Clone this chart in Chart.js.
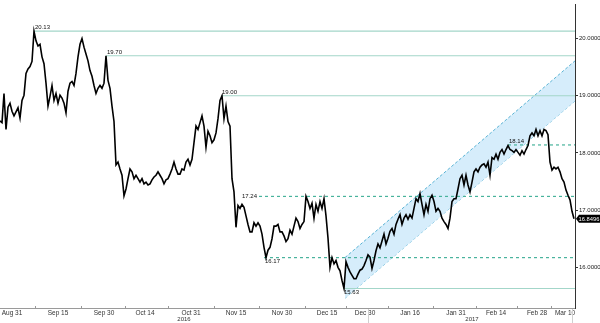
<!DOCTYPE html>
<html>
<head>
<meta charset="utf-8">
<script src="https://cdn.jsdelivr.net/npm/chart.js@4/dist/chart.umd.min.js"></script>
<style>
  html, body { margin: 0; padding: 0; background: #fff; }
  #charts { width: 600px; height: 323px; }
</style>
</head>
<body>
<div id="charts"><canvas id="myChart" width="600" height="323"></canvas></div>
<script>
// Price, sampled twice per trading day (index 0 = late Aug 2016)
var prices = [
    18.56, 18.53, 19.04, 18.41, 18.80, 18.87, 18.73, 18.65, 18.72, 18.79, 18.61, 18.92, 19.01, 19.39, 19.47, 19.51, 19.60, 20.13, 19.96, 19.87,
    19.90, 19.68, 19.56, 19.22, 18.82, 18.99, 19.18, 18.92, 19.04, 18.87, 19.01, 18.96, 18.87, 18.70, 19.08, 19.22, 19.25, 19.18, 19.39, 19.68,
    19.90, 20.00, 19.85, 19.73, 19.61, 19.44, 19.34, 19.18, 19.04, 19.13, 19.18, 19.13, 19.22, 19.70, 19.27, 19.13, 18.82, 18.55, 17.79, 17.84,
    17.72, 17.61, 17.25, 17.37, 17.55, 17.72, 17.67, 17.55, 17.61, 17.55, 17.49, 17.55, 17.46, 17.49, 17.44, 17.46, 17.53, 17.58, 17.61, 17.67,
    17.61, 17.55, 17.46, 17.53, 17.55, 17.63, 17.72, 17.84, 17.72, 17.63, 17.63, 17.72, 17.70, 17.84, 17.89, 17.79, 17.89, 18.18, 18.47, 18.41,
    18.53, 18.65, 18.47, 18.10, 18.38, 18.30, 18.18, 18.23, 18.35, 18.60, 18.92, 19.00, 18.60, 18.82, 18.55, 18.47, 17.55, 17.32, 16.70, 17.08,
    17.03, 17.10, 17.05, 16.90, 16.75, 16.62, 16.62, 16.78, 16.72, 16.78, 16.72, 16.58, 16.35, 16.17, 16.30, 16.35, 16.50, 16.72, 16.72, 16.75,
    16.62, 16.62, 16.55, 16.45, 16.50, 16.65, 16.58, 16.72, 16.86, 16.80, 16.68, 16.75, 16.80, 17.24, 17.15, 17.03, 17.12, 16.86, 17.10, 16.98,
    17.15, 17.03, 17.20, 16.90, 16.51, 16.00, 16.17, 16.06, 16.12, 16.00, 15.94, 15.77, 15.63, 16.10, 16.00, 15.92, 15.86, 15.80, 15.80, 15.88,
    15.95, 15.97, 16.03, 16.12, 16.22, 16.18, 15.98, 16.12, 16.29, 16.41, 16.34, 16.46, 16.58, 16.41, 16.51, 16.63, 16.68, 16.58, 16.75, 16.84,
    16.92, 16.75, 16.86, 16.92, 16.84, 16.92, 16.86, 17.03, 17.20, 17.15, 17.29, 17.10, 16.92, 17.10, 16.98, 17.20, 17.26, 17.15, 16.98, 17.03,
    16.98, 16.86, 16.80, 16.75, 16.68, 16.86, 17.15, 17.20, 17.20, 17.37, 17.55, 17.61, 17.44, 17.61, 17.44, 17.32, 17.49, 17.67, 17.72, 17.67,
    17.75, 17.79, 17.81, 17.75, 17.84, 17.61, 17.92, 17.89, 17.98, 17.89, 18.01, 18.06, 17.98, 18.06, 18.13, 18.06, 18.04, 18.01, 18.06, 18.01,
    17.96, 18.04, 17.98, 18.06, 18.13, 18.30, 18.35, 18.30, 18.41, 18.30, 18.39, 18.30, 18.41, 18.39, 18.32, 17.84, 17.70, 17.75, 17.72, 17.75,
    17.67, 17.55, 17.49, 17.35, 17.26, 17.18, 16.98, 16.8496
];
var lastPrice = 16.8496;

// Support / resistance levels and the sample where each was set
var levelValues = [20.13, 19.70, 19.00, 18.14, 17.24, 16.17, 15.63];
var levelFrom = [17, 53, 110.5, 254, 120.5, 132, 171.5];

// Rising channel: two ends of the upper and lower border
var chanX = [172.5, 287.5];
var chanTop = [16.17, 19.61];
var chanBottom = [15.46, 18.91];

// Axes
var tickLabels = ['Aug 31', 'Sep 15', 'Sep 30', 'Oct 14', 'Oct 31', 'Nov 15', 'Nov 30', 'Dec 15', 'Dec 30', 'Jan 16', 'Jan 31', 'Feb 14', 'Feb 28', 'Mar 10'];
var tickIdx = [6, 29, 52, 72.5, 95.5, 118, 141, 163.5, 182.5, 205, 228, 248, 268.5, 282.5];
var yearLabels = ['2016', '2017'];
var yearIdx = [92, 236];
var yearSepIdx = [184, 286];
var yTicks = [16, 17, 18, 19, 20];
var xMax = 287.5, yMin = 15.289, yMax = 20.594;

// Styles
var levelDashed = [false, false, false, true, true, true, false];
var labelPlace = ['above', 'above', 'above', 'above', 'on', 'below', 'below'];
var smallFont = '6px "Liberation Sans", Arial, sans-serif';
var tagFont = '5.8px "Liberation Sans", Arial, sans-serif';

function buildDatasets() {
    let datasets = [];
    datasets.push({
        data: prices.map(function (p, i) { return { x: i, y: p }; }),
        borderColor: '#000', borderWidth: 1.6, pointRadius: 0, order: 0
    });
    for (let i = 0; i < levelValues.length; i++) {
        datasets.push({
            data: [{ x: levelFrom[i], y: levelValues[i] }, { x: xMax, y: levelValues[i] }],
            borderColor: levelDashed[i] ? '#48b39c' : '#a3d6c9',
            borderDash: levelDashed[i] ? [3, 3] : [],
            borderWidth: 1.2, pointRadius: 0, order: 5
        });
    }
    datasets.push({
        data: chanX.map(function (x, i) { return { x: x, y: chanTop[i] }; }),
        borderColor: '#5ab3d4', borderDash: [3, 2], borderWidth: 1, pointRadius: 0,
        backgroundColor: '#d6edfb', fill: '+1', order: 10
    });
    datasets.push({
        data: chanX.map(function (x, i) { return { x: x, y: chanBottom[i] }; }),
        borderColor: '#5ab3d4', borderDash: [3, 2], borderWidth: 1, pointRadius: 0,
        fill: false, order: 10
    });
    return datasets;
}

// Level labels, last price tag, minor ticks and year row
var extras = {
    id: 'extras',
    afterDatasetsDraw: function (chart) {
        let ctx = chart.ctx, xs = chart.scales.x, ys = chart.scales.y;
        ctx.save();
        ctx.font = smallFont;
        ctx.textAlign = 'left';
        for (let i = 0; i < levelValues.length; i++) {
            let x = xs.getPixelForValue(levelFrom[i]) + 1;
            let y = ys.getPixelForValue(levelValues[i]);
            let txt = levelValues[i].toFixed(2);
            if (labelPlace[i] === 'above') {
                ctx.textBaseline = 'bottom'; y -= 0.5;
            } else if (labelPlace[i] === 'below') {
                ctx.textBaseline = 'top'; y += 1;
            } else {
                ctx.textBaseline = 'middle';
                ctx.fillStyle = '#fff';
                ctx.fillRect(x - 1, y - 3, ctx.measureText(txt).width + 2, 6);
            }
            ctx.fillStyle = '#111';
            ctx.fillText(txt, x, y);
        }
        ctx.restore();
    },
    afterDraw: function (chart) {
        let ctx = chart.ctx, xs = chart.scales.x, ys = chart.scales.y;
        let area = chart.chartArea;
        ctx.save();
        // minor ticks between the labelled dates
        ctx.strokeStyle = '#999';
        ctx.lineWidth = 1;
        for (let i = 0; i < tickIdx.length - 1; i++) {
            let mx = Math.round(xs.getPixelForValue((tickIdx[i] + tickIdx[i + 1]) / 2)) + 0.5;
            ctx.beginPath();
            ctx.moveTo(mx, area.bottom - 2);
            ctx.lineTo(mx, area.bottom);
            ctx.stroke();
        }
        // year separators
        ctx.strokeStyle = '#d0d0d0';
        for (let i = 0; i < yearSepIdx.length; i++) {
            let sx = Math.round(xs.getPixelForValue(yearSepIdx[i])) + 0.5;
            ctx.beginPath();
            ctx.moveTo(sx, area.bottom + 1);
            ctx.lineTo(sx, chart.height);
            ctx.stroke();
        }
        // years
        ctx.font = smallFont;
        ctx.fillStyle = '#333';
        ctx.textAlign = 'center';
        ctx.textBaseline = 'middle';
        for (let i = 0; i < yearLabels.length; i++) {
            ctx.fillText(yearLabels[i], xs.getPixelForValue(yearIdx[i]), area.bottom + 11);
        }
        // last price tag
        let ly = ys.getPixelForValue(lastPrice);
        let lx = area.right + 1;
        ctx.fillStyle = '#000';
        ctx.beginPath();
        ctx.moveTo(lx, ly);
        ctx.lineTo(lx + 3, ly - 4);
        ctx.lineTo(chart.width, ly - 4);
        ctx.lineTo(chart.width, ly + 4);
        ctx.lineTo(lx + 3, ly + 4);
        ctx.closePath();
        ctx.fill();
        ctx.font = tagFont;
        ctx.fillStyle = '#fff';
        ctx.textAlign = 'right';
        ctx.fillText(lastPrice.toFixed(4), chart.width - 0.5, ly + 0.5);
        ctx.restore();
    }
};

function createChart(canvasId) {
    let ctx = document.getElementById(canvasId).getContext('2d');
    return new Chart(ctx, {
        type: 'line',
        data: { datasets: buildDatasets() },
        options: {
            animation: false,
            responsive: false,
            devicePixelRatio: 1,
            layout: { padding: 0 },
            elements: { line: { tension: 0 } },
            plugins: { legend: { display: false }, tooltip: { enabled: false } },
            scales: {
                x: {
                    type: 'linear', min: 0, max: xMax, position: 'bottom',
                    grid: { display: false, drawTicks: false },
                    border: { display: true, color: '#9a9a9a', width: 1 },
                    ticks: {
                        autoSkip: false, maxRotation: 0, padding: 1, color: '#333',
                        font: { family: '"Liberation Sans Narrow", "Liberation Sans", sans-serif', size: 6.5 },
                        callback: function (v, i) { return tickLabels[i]; }
                    },
                    afterBuildTicks: function (scale) {
                        scale.ticks = tickIdx.map(function (v) { return { value: v }; });
                    },
                    afterFit: function (scale) { scale.height = 15; }
                },
                y: {
                    type: 'linear', position: 'right', min: yMin, max: yMax,
                    grid: { drawOnChartArea: false, tickLength: 3, color: '#333' },
                    border: { display: true, color: '#333', width: 1 },
                    ticks: {
                        padding: 1, color: '#222',
                        font: { family: '"Liberation Sans", Arial, sans-serif', size: 6 },
                        callback: function (v) { return v.toFixed(4); }
                    },
                    afterBuildTicks: function (scale) {
                        scale.ticks = yTicks.map(function (v) { return { value: v }; });
                    },
                    afterFit: function (scale) { scale.width = 25; }
                }
            }
        },
        plugins: [extras]
    });
}

createChart('myChart');
</script>
</body>
</html>
